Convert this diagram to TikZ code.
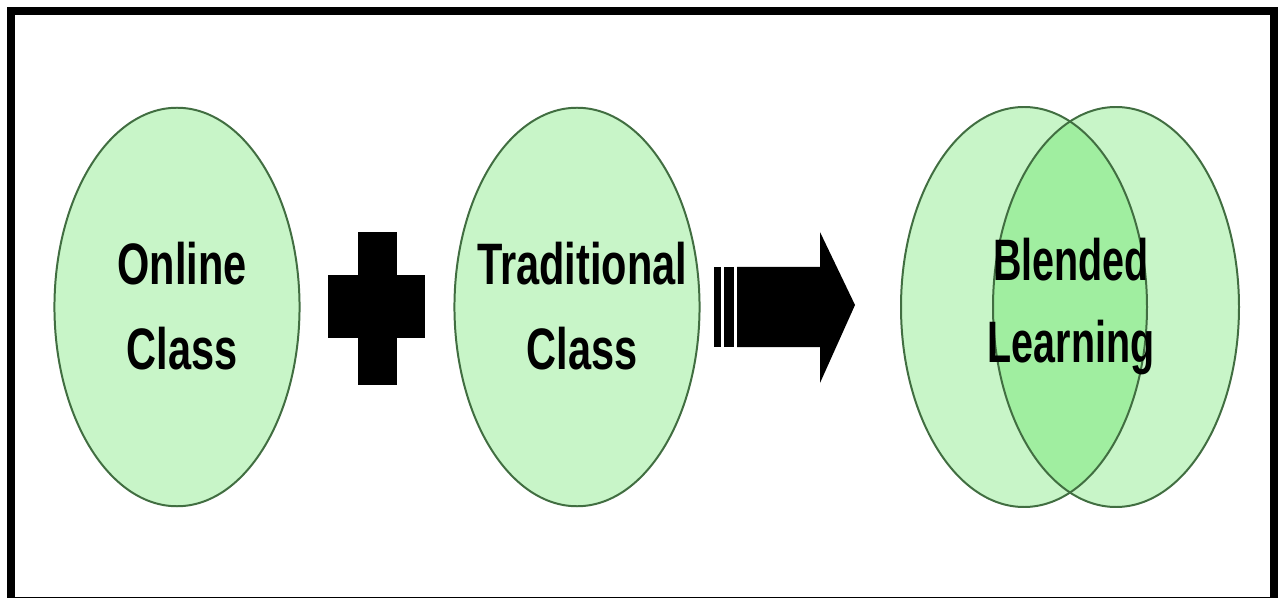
\documentclass[tikz,border=0pt]{standalone}
\usepackage{fontspec}
\setmainfont{Liberation Sans}
\usetikzlibrary{shapes.geometric}
\definecolor{lightg}{RGB}{200,245,200}
\definecolor{midg}{RGB}{160,238,160}
\definecolor{edgeg}{RGB}{65,110,65}
\tikzset{
  circ/.style={ellipse, draw=edgeg, line width=2, fill=lightg, minimum width=246, minimum height=400, inner sep=0},
  lbl/.style={font=\bfseries\fontsize{58.7}{85}\selectfont, align=center, inner sep=0, xscale=0.71},
  blk/.style={fill=black, draw=none}
}
\begin{document}
\begin{tikzpicture}[x=1bp, y=-1bp]
\useasboundingbox (0,0) rectangle (1279,598);
\fill[white] (0,0) rectangle (1279,598);
\draw[line width=8, black] (11,11) rectangle (1274,601);
% ellipses
\node[circ] (online) at (177,307) {};
\node[circ] (trad) at (577,307) {};
\node[circ, fill=none, draw=none] (bl) at (1024,307) {};
\node[circ, fill=none, draw=none] (br) at (1116,307) {};
% venn fills
\fill[lightg] (1024,307) ellipse [x radius=123, y radius=200];
\fill[lightg] (1116,307) ellipse [x radius=123, y radius=200];
\begin{scope}
  \clip (1024,307) ellipse [x radius=123, y radius=200];
  \fill[midg] (1116,307) ellipse [x radius=123, y radius=200];
\end{scope}
\draw[edgeg, line width=2] (1024,307) ellipse [x radius=123, y radius=200];
\draw[edgeg, line width=2] (1116,307) ellipse [x radius=123, y radius=200];
% plus
\fill[blk] (358,232) rectangle (397,385);
\fill[blk] (328,275) rectangle (425,338);
% arrow
\fill[blk] (714,267) rectangle (721,347);
\fill[blk] (724,267) rectangle (734,347);
\fill[blk] (737,267) -- (820,267) -- (820,232) -- (855,305) -- (820,383) -- (820,347) -- (737,347) -- cycle;
% labels
\node[lbl, anchor=north] (t1) at (182,242) {Online\\Class};
\node[lbl, anchor=north] (t2) at (582,242) {Traditional\\Class};
\node[lbl, anchor=north, xscale=0.95, font=\bfseries\fontsize{58.7}{82}\selectfont] (t3) at (1071,238) {Blended\\Learning};
\end{tikzpicture}
\end{document}
